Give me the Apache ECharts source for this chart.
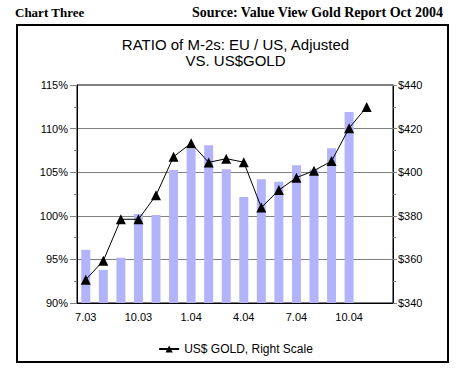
<!DOCTYPE html>
<html><head><meta charset="utf-8">
<script src="https://cdn.jsdelivr.net/npm/echarts@6/dist/echarts.min.js"></script>
<style>html,body{margin:0;padding:0;background:#fff}#c{width:471px;height:382px}</style>
</head><body><div id="c"></div>
<script>
const categories = ['7.03','8.03','9.03','10.03','11.03','12.03','1.04','2.04','3.04','4.04','5.04','6.04','7.04','8.04','9.04','10.04','11.04','12.04'];
const ratioValues = [96.1,93.8,95.2,100.2,100.1,105.25,107.7,108.1,105.35,102.15,104.2,103.9,105.8,105.3,107.75,111.9];
const goldValues = [350.7,359.4,378.4,378.4,389.4,407.1,413.3,404.5,406.2,404.6,383.8,391.8,397.5,400.7,405.1,420.2,429.9];
const leftTicks = {min:90,max:115,interval:5};
const rightTicks = {min:340,max:440,interval:20};

const chart = echarts.init(document.getElementById('c'), null, {renderer:'svg'});
chart.setOption({
  animation:false,
  title:{text:'RATIO of M-2s: EU / US, Adjusted\nVS. US$GOLD',left:'center',top:31,
    textStyle:{fontFamily:'Liberation Sans, Arial',fontSize:15,fontWeight:'normal',color:'#000',lineHeight:16}},
  graphic:[
    {type:'rect',shape:{x:17,y:25,width:431,height:337},style:{fill:'none',stroke:'#000',lineWidth:2}},
    {type:'text',left:15,top:6,style:{text:'Chart Three',font:'bold 13px "Liberation Serif"',fill:'#000'}},
    {type:'text',left:192,top:5,style:{text:'Source: Value View Gold Report Oct 2004',font:'bold 14px "Liberation Serif"',fill:'#000'}}
  ],
  legend:{data:['US$ GOLD, Right Scale'],top:338,left:'center',itemWidth:20,itemHeight:9,itemGap:6,
    textStyle:{fontFamily:'Liberation Sans, Arial',fontSize:12,color:'#000'}},
  grid:{left:77,right:78,top:85,bottom:79,show:true,borderColor:'#000',borderWidth:1},
  xAxis:{type:'category',data:categories,axisTick:{show:false},
    axisLine:{lineStyle:{color:'#000'}},
    axisLabel:{interval:2,color:'#000',fontFamily:'Liberation Sans, Arial',fontSize:11,margin:8}},
  yAxis:[
    {type:'value',min:leftTicks.min,max:leftTicks.max,interval:leftTicks.interval,
     axisLine:{show:true,lineStyle:{color:'#000'}},
     axisTick:{show:true,length:7,lineStyle:{color:'#808080'}},
     minorTick:{show:true,splitNumber:2,length:3,lineStyle:{color:'#808080'}},
     splitLine:{show:true,lineStyle:{color:'#808080',width:1}},
     axisLabel:{formatter:'{value}%',color:'#000',fontFamily:'Liberation Sans, Arial',fontSize:11,margin:9}},
    {type:'value',min:rightTicks.min,max:rightTicks.max,interval:rightTicks.interval,
     axisLine:{show:true,lineStyle:{color:'#000'}},
     axisTick:{show:true,length:4,lineStyle:{color:'#808080'}},
     minorTick:{show:true,splitNumber:2,length:3,lineStyle:{color:'#808080'}},
     splitLine:{show:false},
     axisLabel:{formatter:'${value}',color:'#000',fontFamily:'Liberation Sans, Arial',fontSize:11,margin:5}}
  ],
  series:[
    {name:'Ratio',type:'bar',data:ratioValues,barWidth:9,itemStyle:{color:'#b3b3fb'},yAxisIndex:0},
    {name:'US$ GOLD, Right Scale',type:'line',data:goldValues,yAxisIndex:1,symbol:'triangle',symbolSize:10,
     lineStyle:{color:'#000',width:1},itemStyle:{color:'#000'}}
  ]
});
</script></body></html>
